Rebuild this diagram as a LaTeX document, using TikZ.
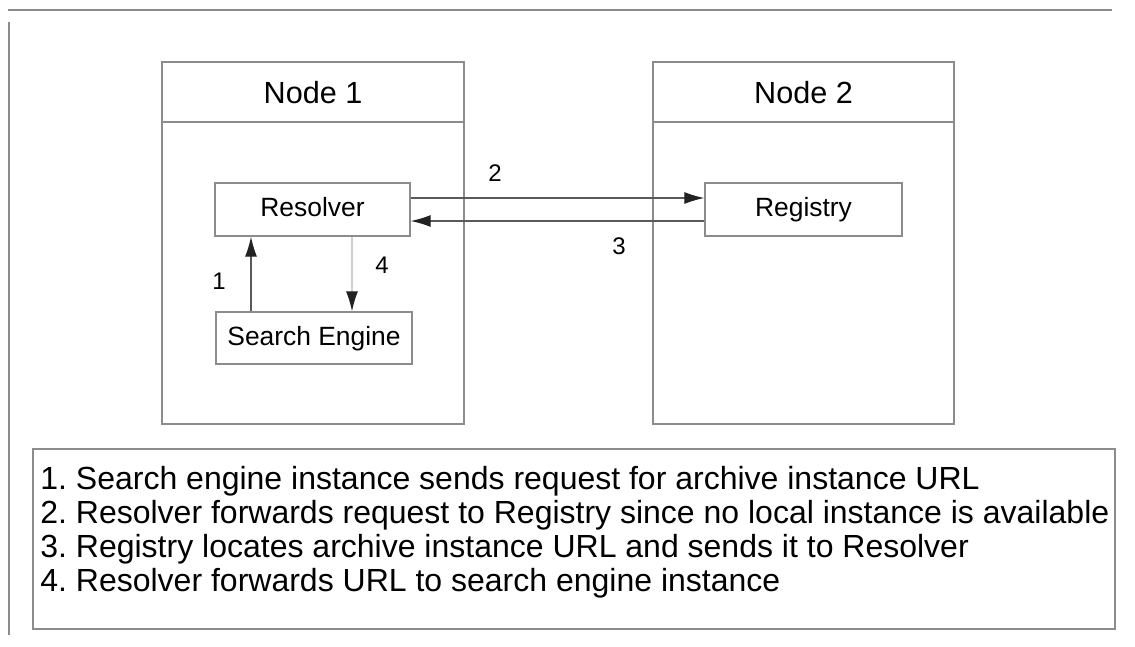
\documentclass[tikz,border=0pt]{standalone}
\usepackage{fontspec}
\setmainfont{Liberation Sans}
\usetikzlibrary{arrows.meta, positioning, calc}
\definecolor{boxgray}{HTML}{8C8C8C}
\definecolor{linegray}{HTML}{5A5A5A}
\definecolor{fadegray}{HTML}{CFCFCF}
\definecolor{tipgray}{HTML}{222222}

\tikzset{
  comp/.style={draw=boxgray, line width=0.7pt, fill=white, minimum height=26.5pt, inner sep=0pt, text height=1.8ex, text depth=0.45ex, font=\fontsize{13.2}{15}\selectfont},
  flow/.style={draw=linegray, line width=0.6pt, -{Latex[length=10pt,width=6pt,color=tipgray]}},
  steplabel/.style={fill=white, rounded corners=2pt, inner sep=1.5pt, font=\fontsize{12}{14}\selectfont},
  nodetitle/.style={font=\fontsize{15.3}{18}\selectfont},
  legtext/.style={font=\fontsize{16}{19}\selectfont, inner sep=0pt},
  frame/.style={boxgray, line width=0.8pt}
}

\begin{document}
\frenchspacing
\begin{tikzpicture}[x=0.5pt, y=-0.5pt]
\useasboundingbox (0,0) rectangle (1135,647);
% outer frame, only top and left edge show
\draw[frame] (1112,10) -- (8,10);
\draw[frame] (9,22) -- (9,635);
% the two machines
\draw[frame] (162,62) rectangle (464,424);
\draw[frame] (162,122) -- (464,122);
\node[nodetitle] (title1) at (313,93) {Node 1};
\draw[frame] (653,62) rectangle (954,424);
\draw[frame] (653,122) -- (954,122);
\node[nodetitle] (title2) at (803.5,93) {Node 2};
% components
\node[comp, minimum width=97.5pt] (res) at (312.5,209.5) {Resolver};
\node[comp, minimum width=98.5pt] (reg) at (803.5,209.5) {Registry};
\node[comp, minimum width=98pt, minimum height=26pt] (se) at (314,338) {Search Engine};
% request / reply arrows
\draw[flow] ([yshift=5.75pt]res.east) -- ([yshift=5.75pt]reg.west);
\draw[flow] ([yshift=-5.75pt]reg.west) -- ([yshift=-5.75pt]res.east);
\coordinate (up1) at ([xshift=-31.5pt]se.north);
\draw[flow] (up1) -- (up1 |- res.south);
\coordinate (dn4) at ([xshift=19pt]se.north);
\draw[flow, draw=fadegray] (dn4 |- res.south) -- (dn4);
% step numbers
\node[steplabel] (s1) at (219,281) {1};
\node[steplabel] (s2) at (495,173) {2};
\node[steplabel] (s3) at (619,246) {3};
\node[steplabel] (s4) at (382,265) {4};
% legend
\node[draw=boxgray, line width=0.8pt, minimum width=541pt, minimum height=90pt, inner sep=0pt, anchor=north west] (legend) at (32,448) {};
\foreach \txt [count=\i] in {Search engine instance sends request for archive instance URL,
    Resolver forwards request to Registry since no local instance is available,
    Registry locates archive instance URL and sends it to Resolver,
    Resolver forwards URL to search engine instance}
  \node[legtext, anchor=base west] (line\i) at ([xshift=4pt, yshift={-3.75pt-17pt*\i}]legend.north west) {\i.\ \txt};
\end{tikzpicture}
\end{document}
